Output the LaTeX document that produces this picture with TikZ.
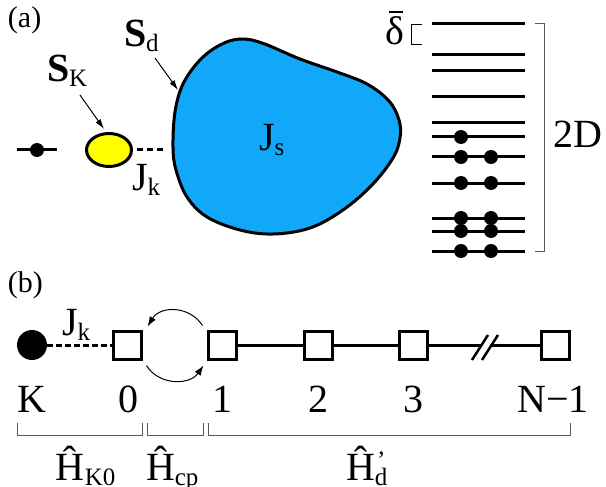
\documentclass[tikz,border=0pt]{standalone}
\usepackage{fontspec}
\setmainfont{Liberation Serif}
\usetikzlibrary{arrows.meta,calc,shapes.geometric}
\definecolor{blobblue}{RGB}{18,168,250}
\definecolor{kyellow}{RGB}{255,255,0}
\newcommand{\lsb}[1]{\raisebox{-5pt}{\fontsize{25}{25}\selectfont #1}}
\begin{document}
\begin{tikzpicture}[x=1pt,y=-1pt,
  lab/.style={inner sep=0pt, outer sep=0pt, anchor=base west, font=\fontsize{40}{42}\selectfont},
  clab/.style={inner sep=0pt, outer sep=0pt, anchor=base, font=\fontsize{40}{42}\selectfont},
  plab/.style={inner sep=0pt, outer sep=0pt, anchor=base west, font=\fontsize{30}{32}\selectfont},
  level/.style={line width=3pt},
  elec/.style={circle, fill=black, inner sep=0pt, minimum size=14pt},
  site/.style={draw, line width=3pt, fill=white, minimum size=28pt, inner sep=0pt},
  brk/.style={draw=black!65, line width=1pt},
  ptr/.style={line width=1pt, -{Latex[length=10pt,width=6pt]}},
  hop/.style={line width=1pt, -{Latex[length=10pt,width=7pt]}},
  bond/.style={line width=3pt, dash pattern=on 5.5pt off 3.5pt},
]
\useasboundingbox (0,0) rectangle (606,487);

% ---------------- (a) ----------------
\node[plab] (pa) at (8,28) {(a)};

% lone spin
\coordinate (e0l) at (17,150);
\coordinate (e0r) at (57,150);
\draw[level] (e0l) -- (e0r);
\node[elec] (e0) at (37,150) {};

% blob (dot)
\draw[line width=3pt, fill=blobblue] plot[smooth cycle, tension=0.6] coordinates {
 (240,39) (262,43) (300,59) (337,72) (367,84) (389,101) (399,120) (400,138)
 (393,158) (372,185) (343,210) (310,228) (273,234) (240,230) (207,217)
 (187,197) (176,170) (173,147) (175,112) (183,84) (200,60) (220,45)};
\coordinate (blobL) at (172,150);

% Kondo impurity
\node[draw, ellipse, fill=kyellow, line width=3pt, minimum width=45pt, minimum height=33pt, inner sep=0pt] (SK) at (109,150) {};
\draw[bond, dash pattern=on 6pt off 4pt, shorten <=4pt, shorten >=6pt] (SK) -- (blobL);

% labels (a)
\node[lab] (lSK) at (47,82) {\textbf{S}\lsb{K}};
\node[lab] (lSd) at (124,47) {\textbf{S}\lsb{d}};
\node[lab] (lJka) at (132,190) {J\lsb{k}};
\node[lab] (lJs) at (259,150) {J\lsb{s}};

\coordinate (pK1) at (80,95);
\coordinate (pK2) at (104,129);
\draw[ptr] (pK1) -- (pK2);
\coordinate (pd1) at (155,58);
\coordinate (pd2) at (178,90);
\draw[ptr] (pd1) -- (pd2);

% energy levels
\foreach \y [count=\i] in {24,55,71,97,123,137,157,183,218,231,251} {
  \coordinate (Ll\i) at (432,\y);
  \coordinate (Lr\i) at (525,\y);
  \draw[level] (Ll\i) -- (Lr\i);
}
\foreach \x/\y [count=\i] in {461/137, 461/157, 491/157, 461/183, 491/183,
  461/218, 491/218, 461/231, 491/231, 461/251, 491/251} {
  \node[elec] (dot\i) at (\x,\y) {};
}

% brackets (a)
\draw[brk] (535,24) -| (544,251) -- (535,251);
\draw[line width=0.9pt] (422,24) -| (411,44) -- (422,44);
\node[lab] (delta) at (385,45) {δ};
\coordinate (db1) at (389,12);
\coordinate (db2) at (403,12);
\draw[line width=1.3pt] (db1) -- (db2);
\node[lab] (l2D) at (553,147) {2D};

% ---------------- (b) ----------------
\node[plab] (pb) at (8,292) {(b)};

\node[elec, minimum size=30pt] (K) at (32,345) {};
\node[site] (s0) at (127,345) {};
\node[site] (s1) at (222,345) {};
\node[site] (s2) at (318,345) {};
\node[site] (s3) at (413,345) {};
\node[site] (sN) at (555,345) {};
\coordinate (b1) at (481,345);
\coordinate (b2) at (490,345);

\draw[bond] (K) -- (s0);
\draw[level] (s1) -- (s2);
\draw[level] (s2) -- (s3);
\draw[level] (s3) -- (b1);
\draw[level] (b2) -- (sN);
\coordinate (sl1a) at (472,360); \coordinate (sl1b) at (488,335);
\coordinate (sl2a) at (482,360); \coordinate (sl2b) at (498,335);
\draw[line width=2.5pt] (sl1a) -- (sl1b);
\draw[line width=2.5pt] (sl2a) -- (sl2b);

\node[lab] (lJkb) at (62,335) {J\lsb{k}};

% hopping arrows
\draw[hop] ($(s1.north west)+(-4,-4)$) .. controls +(-13,-20) and +(13,-21) .. ($(s0.north east)+(5,-3)$);
\draw[hop] ($(s0.south east)+(4,5)$) .. controls +(12,20) and +(-14,20) .. ($(s1.south west)+(-3,5)$);

% site labels
\node[clab] (tK) at (32,412) {K};
\node[clab] (t0) at (128,412) {0};
\node[clab] (t1) at (222,412) {1};
\node[clab] (t2) at (318,412) {2};
\node[clab] (t3) at (413,412) {3};
\node[clab] (tN) at (553,412) {N−1};

% brackets (b)
\draw[brk] (17,423) |- (142,435) -- (142,423);
\draw[brk] (147,423) |- (203,435) -- (203,423);
\draw[brk] (208,423) |- (570,435) -- (570,423);

\node[lab] (hK0) at (56,480) {Ĥ\lsb{K0}};
\node[lab] (hcp) at (146,480) {Ĥ\lsb{cp}};
\node[lab] (hd) at (346,480) {Ĥ\lsb{d}};
\node[inner sep=0pt, anchor=base west, font=\fontsize{25}{25}\selectfont] (hdp) at (377,468) {’};
\end{tikzpicture}
\end{document}
